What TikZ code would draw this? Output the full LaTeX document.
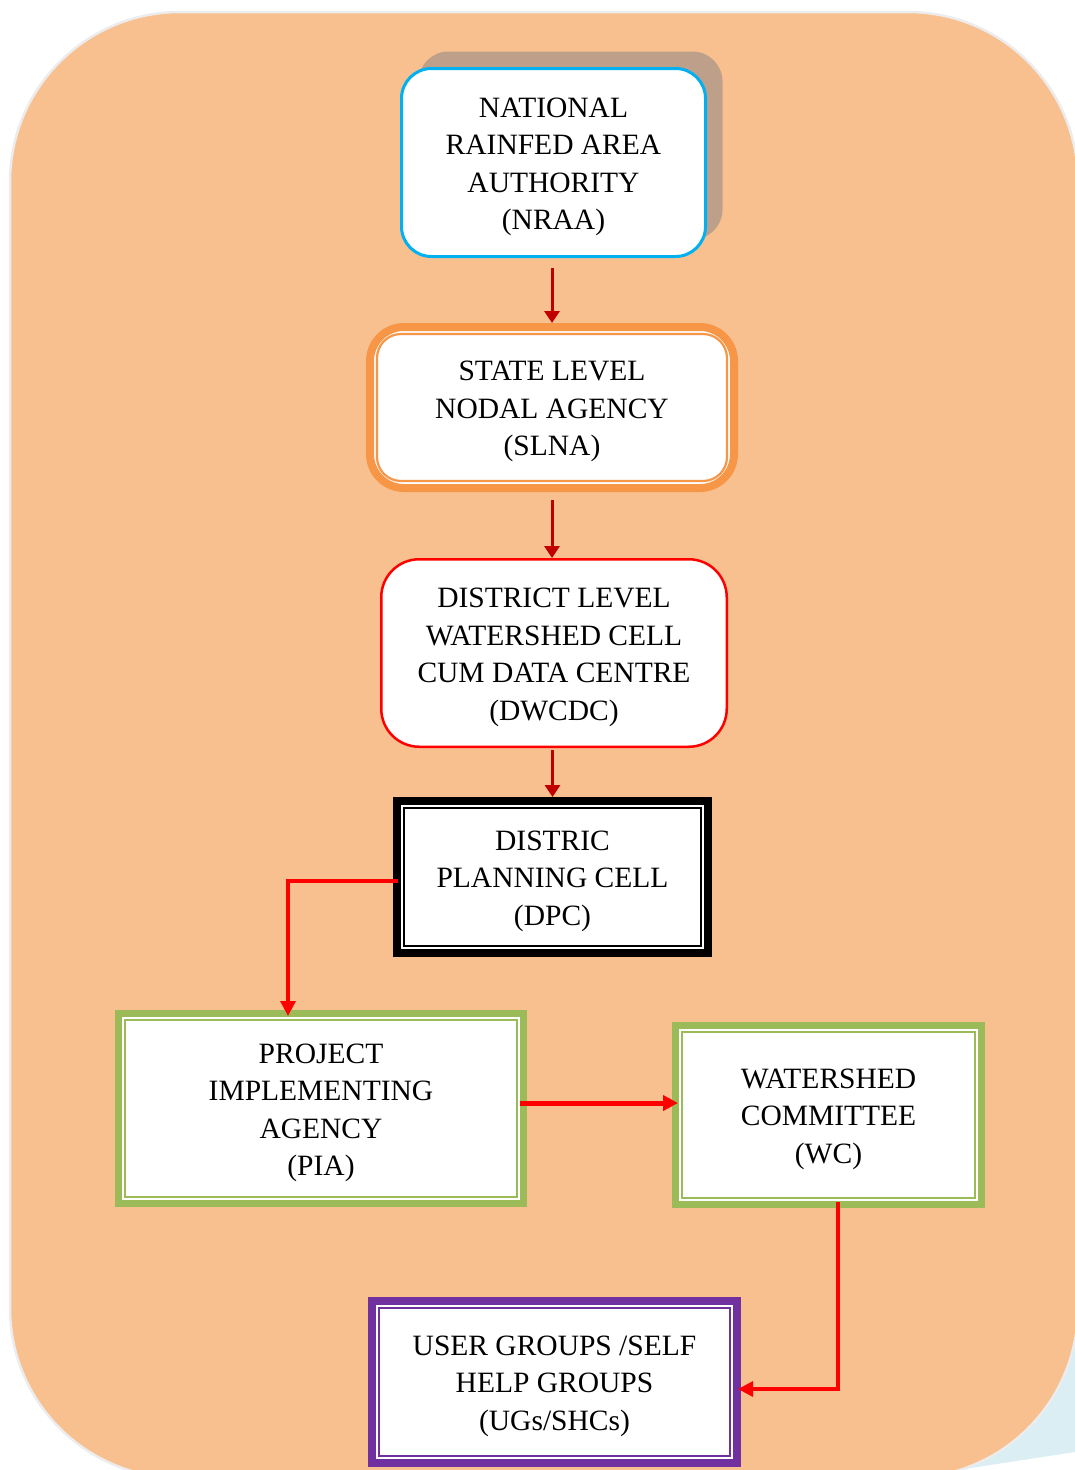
\documentclass[tikz,border=0pt]{standalone}
\usepackage{fontspec}
\setmainfont{Liberation Serif}
\usetikzlibrary{arrows.meta,shadows,calc}
\definecolor{bgor}{RGB}{248,192,143}
\definecolor{bgline}{RGB}{236,236,238}
\definecolor{shadowc}{RGB}{190,160,138}
\definecolor{skyb}{RGB}{0,176,240}
\definecolor{orb}{RGB}{247,150,70}
\definecolor{grn}{RGB}{155,187,89}
\definecolor{purp}{RGB}{112,48,160}
\definecolor{dred}{RGB}{192,0,0}
\definecolor{brred}{RGB}{255,0,0}
\definecolor{curl}{RGB}{218,238,243}
\newcommand\myup{\rule{0pt}{28pt}}
\begin{document}
\begin{tikzpicture}[x=1pt,y=-1pt,
  box/.style={align=center, font=\fontsize{29.5}{37.5}\selectfont, text=black, fill=white, inner sep=0pt},
  darr/.style={draw=dred, line width=3pt, -{Triangle[length=12pt,width=15pt]}},
  rarr/.style={draw=brred, line width=3.2pt, -{Triangle[length=15pt,width=15pt]}},
  inframe/.style={line width=2.2pt}
]
\useasboundingbox (0,0) rectangle (1075,1470);
\clip (0,0) rectangle (1075,1470);
% page curl and background
\fill[curl] (925,1475) -- (1075,1452) -- (1075,1300) -- cycle;
\draw[bgline, fill=bgor, line width=2.5pt, rounded corners=170pt] (10,12) rectangle (1078,1478);

% nodes
\node[box, draw=skyb, line width=3pt, rounded corners=30pt, minimum width=304pt, minimum height=188pt,
  drop shadow={shadow xshift=17pt, shadow yshift=17pt, fill=shadowc, opacity=1}]
  (nraa) at (553.5,162.5) {\myup NATIONAL\\RAINFED AREA\\AUTHORITY\\(NRAA)};

\node[box, draw=orb, line width=8pt, rounded corners=34pt, minimum width=364pt, minimum height=161pt]
  (slna) at (552,407.5) {\myup STATE LEVEL\\NODAL AGENCY\\(SLNA)};
\draw[orb, inframe, rounded corners=24pt] ([shift={(11pt,-11pt)}]slna.north west) rectangle ([shift={(-11pt,11pt)}]slna.south east);

\node[box, draw=brred, line width=2.5pt, rounded corners=38pt, minimum width=345.5pt, minimum height=187.5pt]
  (dwcdc) at (554,653) {\myup DISTRICT LEVEL\\WATERSHED CELL\\CUM DATA CENTRE\\(DWCDC)};

\node[box, draw=black, line width=8pt, minimum width=311pt, minimum height=152pt]
  (dpc) at (552.5,877) {\myup DISTRIC\\PLANNING CELL\\(DPC)};
\draw[black, inframe] ([shift={(11pt,-11pt)}]dpc.north west) rectangle ([shift={(-11pt,11pt)}]dpc.south east);

\node[box, draw=grn, line width=7pt, minimum width=405pt, minimum height=190pt]
  (pia) at (321,1108.5) {\myup PROJECT\\IMPLEMENTING\\AGENCY\\(PIA)};
\draw[grn, inframe] ([shift={(10pt,-10pt)}]pia.north west) rectangle ([shift={(-10pt,10pt)}]pia.south east);

\node[box, draw=grn, line width=7pt, minimum width=306pt, minimum height=179pt]
  (wc) at (828.5,1115) {\myup WATERSHED\\COMMITTEE\\(WC)};
\draw[grn, inframe] ([shift={(10pt,-10pt)}]wc.north west) rectangle ([shift={(-10pt,10pt)}]wc.south east);

\node[box, draw=purp, line width=8pt, minimum width=365pt, minimum height=162pt]
  (ug) at (554.5,1382) {\myup USER GROUPS /SELF\\HELP GROUPS\\(UGs/SHCs)};
\draw[purp, inframe] ([shift={(11pt,-11pt)}]ug.north west) rectangle ([shift={(-11pt,11pt)}]ug.south east);

% connectors
\draw[darr, shorten <=10pt] (slna.north |- nraa.south) -- (slna.north);
\draw[darr, shorten <=8pt] (slna.south) -- (slna.south |- dwcdc.north);
\draw[darr, shorten <=2pt] (dwcdc.south -| dpc.north) -- (dpc.north);
\draw[rarr, shorten <=-5pt, shorten >=-6pt] ([yshift=-4pt]dpc.west) -| ([xshift=-33pt]pia.north);
\draw[rarr, line width=5pt, shorten <=-7pt, shorten >=-6pt] ([yshift=5.5pt]pia.east) -- ([yshift=5.5pt]pia.east -| wc.west);
\draw[rarr, shorten <=-6pt, shorten >=-3pt] ([xshift=9.5pt]wc.south) |- ([yshift=-7pt]ug.east);
\end{tikzpicture}
\end{document}
